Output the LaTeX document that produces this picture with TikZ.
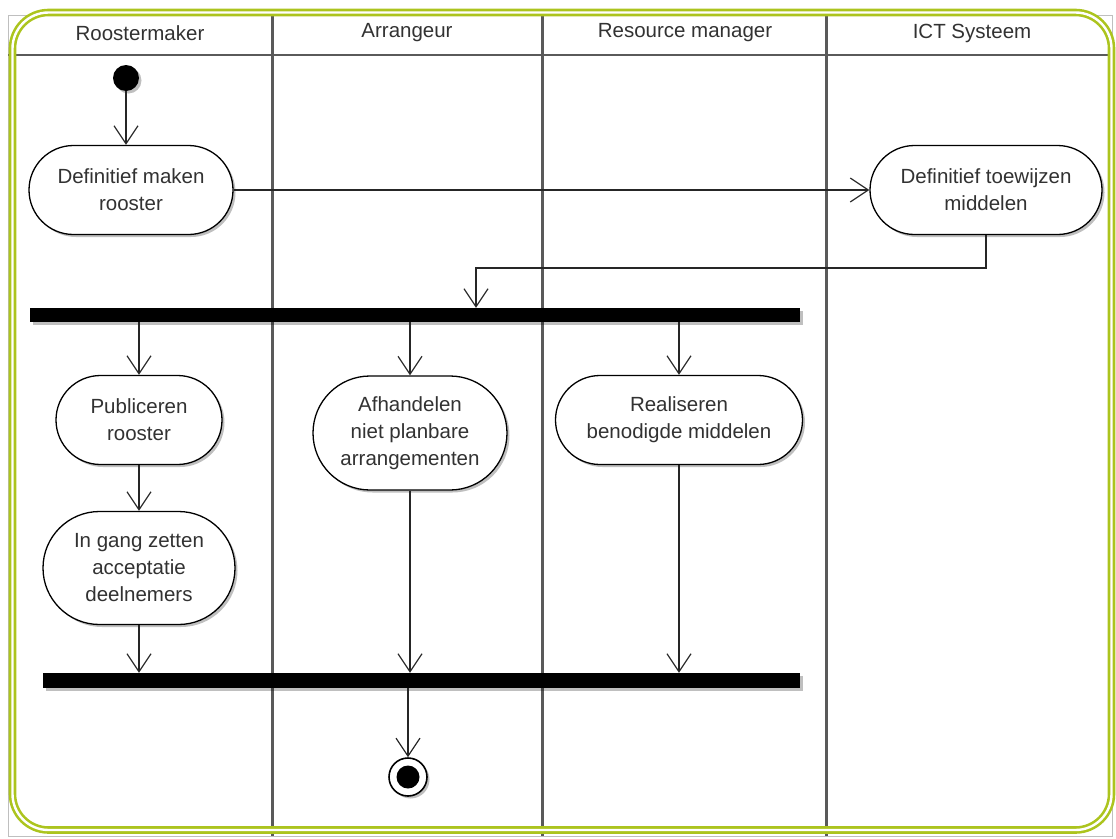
\documentclass[tikz,border=0pt]{standalone}
\usepackage{fontspec}
\setmainfont{Liberation Sans}
\usetikzlibrary{arrows.meta,shapes.misc,shadows}
\definecolor{framegreen}{RGB}{172,196,30}
\definecolor{lanegray}{RGB}{90,90,90}
\definecolor{txtgray}{RGB}{50,50,50}
\begin{document}
\begin{tikzpicture}[x=1pt,y=-1pt,
  softshadow/.style={drop shadow={shadow xshift=2.5pt,shadow yshift=-2.5pt,opacity=0.25,fill=black}},
  activity/.style={rounded rectangle, draw=black, line width=1.3pt, fill=white,
    align=center, inner sep=0pt, text=txtgray,
    font=\fontsize{20.5}{27}\selectfont, softshadow},
  syncbar/.style={rectangle, fill=black, inner sep=0pt, softshadow},
  flow/.style={draw=black!85, line width=1.2pt,
    -{Straight Barb[length=18pt,width=24pt,line width=1.2pt]}},
  lane/.style={draw=lanegray, line width=3pt},
  header/.style={text=txtgray, font=\fontsize{20.5}{22}\selectfont}
]
\useasboundingbox (0,0) rectangle (1116,838);

% swimlane frame, header row and lane dividers
\draw[black!25, line width=1pt] (8,15) rectangle (1112,836);
\draw[lanegray, line width=2.4pt] (8,55) -- (1112,55);
\draw[lane] (272,15) -- (272,836);
\draw[lane] (542,15) -- (542,836);
\draw[lane] (826,15) -- (826,836);

% lane titles
\node[header] (h1) at (140,33) {Roostermaker};
\node[header] (h2) at (407,33) {Arrangeur};
\node[header] (h3) at (685,33) {Resource manager};
\node[header] (h4) at (972,33) {ICT Systeem};

% rounded outer border
\draw[framegreen, line width=2.6pt, double=white, double distance=2.4pt, rounded corners=36pt]
  (12.5,12.5) rectangle (1111.5,830);

% start node
\node[circle, fill=black, minimum size=26pt, inner sep=0pt, softshadow] (start) at (126,78) {};

% activities
\node[activity, minimum width=204pt, minimum height=89pt] (def) at (131,190) {Definitief maken\\rooster};
\node[activity, minimum width=232pt, minimum height=89pt] (toew) at (986,190) {Definitief toewijzen\\middelen};
\node[activity, minimum width=166pt, minimum height=89pt] (pub) at (139,420) {Publiceren\\rooster};
\node[activity, minimum width=194pt, minimum height=114pt] (afh) at (410,433) {Afhandelen\\niet planbare\\arrangementen};
\node[activity, minimum width=247pt, minimum height=89pt] (real) at (679,420) {Realiseren\\benodigde middelen};
\node[activity, minimum width=192pt, minimum height=113pt] (ingang) at (139,568) {In gang zetten\\acceptatie\\deelnemers};

% fork and join bars
\node[syncbar, minimum width=770pt, minimum height=14pt] (fork) at (415,315) {};
\node[syncbar, minimum width=757pt, minimum height=15pt] (join) at (421.5,680.5) {};

% final node
\node[circle, draw=black, line width=1.6pt, fill=white, minimum size=38pt, inner sep=0pt, softshadow,
  path picture={\fill[black] (path picture bounding box.center) circle (11.5pt);}] (final) at (408,777) {};

% bend of the return flow
\coordinate (bend) at (476,268);

% flows
\draw[flow] (start.south) -- (start |- def.north);
\draw[flow] (def.east) -- (toew.west);
\draw[flow] (toew.south) |- (bend) -- (bend |- fork.north);
\draw[flow] (pub.north |- fork.south) -- (pub.north);
\draw[flow] (afh.north |- fork.south) -- (afh.north);
\draw[flow] (real.north |- fork.south) -- (real.north);
\draw[flow] (pub.south) -- (ingang.north);
\draw[flow] (ingang.south) -- (ingang.south |- join.north);
\draw[flow] (afh.south) -- (afh.south |- join.north);
\draw[flow] (real.south) -- (real.south |- join.north);
\draw[flow] (final |- join.south) -- (final.north);
\end{tikzpicture}
\end{document}
